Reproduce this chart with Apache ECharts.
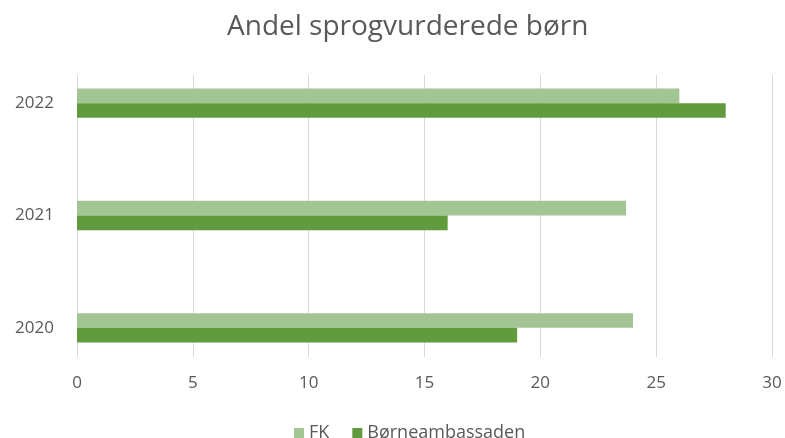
<!DOCTYPE html>
<html>
<head>
<meta charset="utf-8">
<script src="https://cdn.jsdelivr.net/npm/echarts@6/dist/echarts.min.js"></script>
<style>html,body{margin:0;padding:0;background:#fff}#c{width:785px;height:438px}</style>
</head>
<body>
<div id="c"></div>
<script>
const titleText = 'Andel sprogvurderede børn';
const categories = ['2020', '2021', '2022'];
const seriesNames = ['FK', 'Børneambassaden'];
const fkValues = [24.0, 23.7, 26.0];
const borneValues = [19.0, 16.0, 28.0];
const xTicks = { min: 0, max: 30, interval: 5 };

const chart = echarts.init(document.getElementById('c'), null, { renderer: 'canvas' });
const font = 'Open Sans, Lato, sans-serif';
chart.setOption({
  animation: false,
  backgroundColor: '#ffffff',
  title: {
    text: titleText, left: 222, top: 8,
    textStyle: { fontFamily: font, fontSize: 28, fontWeight: 'normal', color: '#595959' }
  },
  legend: {
    data: seriesNames, top: 419, left: 289, itemWidth: 10, itemHeight: 10, itemGap: 23,
    icon: 'rect',
    textStyle: { fontFamily: font, fontSize: 18, color: '#595959' }
  },
  grid: [
    { left: 77, right: 13, top: 75, bottom: 81 },
    { left: 77, right: 13, top: 47, bottom: 54 }
  ],
  xAxis: [
    { type: 'value', gridIndex: 0, min: xTicks.min, max: xTicks.max, interval: xTicks.interval,
      axisLine: { show: false }, axisTick: { show: false },
      splitLine: { lineStyle: { color: '#d9d9d9', width: 1 } },
      axisLabel: { margin: 18, fontFamily: font, fontSize: 17, color: '#595959' } },
    { type: 'value', gridIndex: 1, min: xTicks.min, max: xTicks.max, interval: xTicks.interval, show: false }
  ],
  yAxis: [
    { type: 'category', gridIndex: 0, data: categories, show: false },
    { type: 'category', gridIndex: 1, data: categories,
      axisLine: { show: false }, axisTick: { show: false },
      axisLabel: { margin: 23, fontFamily: font, fontSize: 17, color: '#595959' } }
  ],
  series: [
    { name: seriesNames[0], type: 'bar', xAxisIndex: 1, yAxisIndex: 1, data: fkValues,
      barWidth: 14.7, barGap: '0%', itemStyle: { color: '#a3c593' } },
    { name: seriesNames[1], type: 'bar', xAxisIndex: 1, yAxisIndex: 1, data: borneValues,
      barWidth: 14.7, barGap: '0%', itemStyle: { color: '#629a3e' } }
  ]
});
</script>
</body>
</html>
